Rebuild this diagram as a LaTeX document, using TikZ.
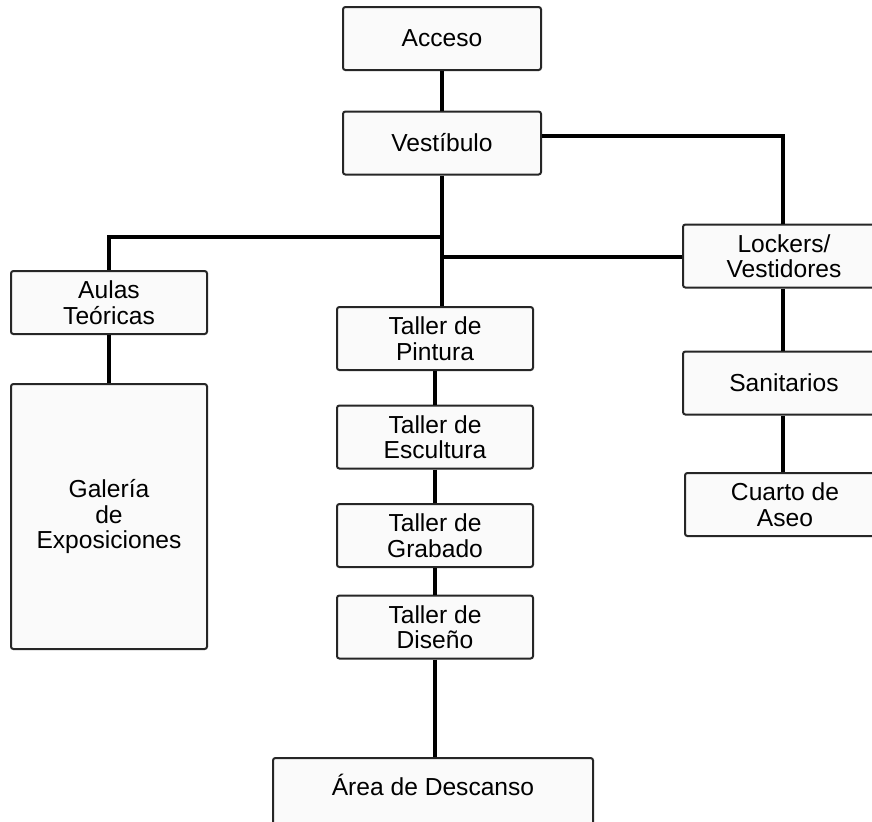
\documentclass[tikz,border=0pt]{standalone}
\usepackage{fontspec}
\setmainfont{Liberation Sans}
\usetikzlibrary{positioning}

\begin{document}
\begin{tikzpicture}[x=0.5pt, y=-0.5pt,
	caja/.style={draw=black!85, line width=1pt, fill=black!2, rounded corners=1.2pt,
		align=center, inner sep=0pt, minimum width=98pt, minimum height=31.5pt,
		font=\fontsize{12.3}{12.8}\selectfont},
	enlace/.style={line width=2pt}]
	%%%%% START %%%%%
	
	\useasboundingbox (0,0) rectangle (872,821);
	
	% eje central
	\node[caja, minimum width=99pt] (acceso) at (442,38.5) {Acceso};
	\node[caja, minimum width=99pt] (vestibulo) at (442,143) {Vestíbulo};
	
	% columna izquierda
	\node[caja] (aulas) at (109,302.5) {Aulas\\Teóricas};
	\node[caja, minimum height=132.5pt] (galeria) at (109,516.5) {Galería\\de\\Exposiciones};
	
	% talleres
	\node[caja] (pintura) at (435,338.5) {Taller de\\Pintura};
	\node[caja] (escultura) at (435,437) {Taller de\\Escultura};
	\node[caja] (grabado) at (435,535.5) {Taller de\\Grabado};
	\node[caja] (diseno) at (435,627) {Taller de\\Diseño};
	\node[caja, minimum width=160pt, minimum height=40pt, text height=8.6pt, text depth=11pt] (area) at (433,798) {Área de Descanso};
	
	% columna derecha
	\node[caja, minimum width=101pt] (lockers) at (784,256) {Lockers/\\Vestidores};
	\node[caja, minimum width=101pt] (sanitarios) at (784,383) {Sanitarios};
	\node[caja, minimum width=100pt] (cuarto) at (785,504.5) {Cuarto de\\Aseo};
	
	\coordinate (colder) at (783,136);
	\coordinate (cruceizq) at (442,237);
	\coordinate (cruceder) at (442,257);
	
	% enlaces
	\draw[enlace] (acceso) -- (vestibulo);
	\draw[enlace] (vestibulo.east |- colder) -- (colder) -- (colder |- lockers.north);
	\draw[enlace] (vestibulo.south) -- (vestibulo.south |- pintura.north);
	\draw[enlace] (cruceizq) -| (aulas.north);
	\draw[enlace] (cruceder) -- (cruceder -| lockers.west);
	\draw[enlace] (aulas) -- (galeria);
	
	\draw[enlace] (pintura) -- (escultura);
	\draw[enlace] (escultura) -- (grabado);
	\draw[enlace] (grabado) -- (diseno);
	\draw[enlace] (diseno.south) -- (diseno.south |- area.north);
	
	\draw[enlace] (colder |- lockers.south) -- (colder |- sanitarios.north);
	\draw[enlace] (colder |- sanitarios.south) -- (colder |- cuarto.north);
	
	%%%%% END %%%%%
\end{tikzpicture}
\end{document}
